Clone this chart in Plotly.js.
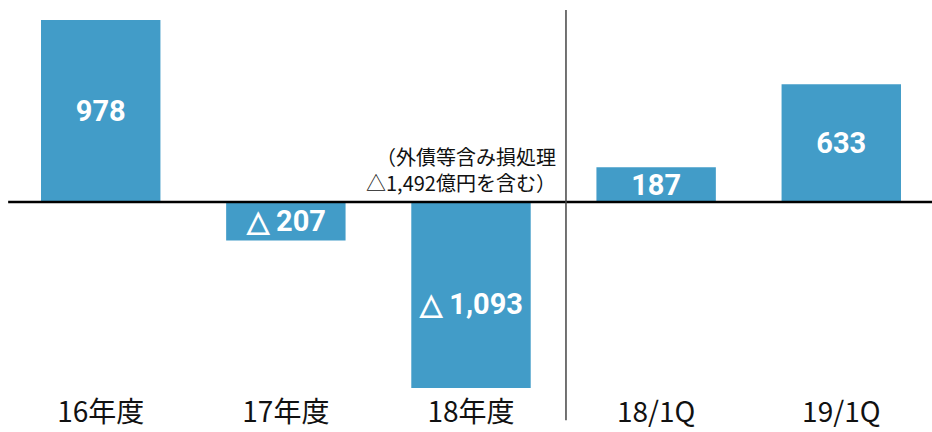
<!DOCTYPE html>
<html>
<head>
<meta charset="utf-8">
<script src="https://cdn.plot.ly/plotly-3.0.1.min.js"></script>
<style>
  html, body { margin: 0; padding: 0; background: #fff; }
  #chart { width: 932px; height: 432px; }
</style>
</head>
<body>
<div id="chart"></div>
<script>
const periods = ['16年度', '17年度', '18年度', '18/1Q', '19/1Q'];
const profits = [978, -207, -1093, 187, 633];
const noteLines = ['（外債等含み損処理', '△1,492億円を含む）'];

// negative values are written with a triangle, Japanese style
const labels = profits.map((v) =>
  v < 0 ? '△ ' + Math.abs(v).toLocaleString('en-US') : v.toLocaleString('en-US')
);

const trace = {
  x: periods,
  y: profits,
  type: 'bar',
  width: 0.645,
  marker: { color: '#429cc8', line: { width: 0 } },
  text: labels,
  textposition: 'inside',
  insidetextanchor: 'middle',
  constraintext: 'none',
  textfont: { family: 'Roboto, sans-serif', size: 29, color: '#ffffff', weight: 'bold' },
  hoverinfo: 'none'
};

const layout = {
  width: 932,
  height: 432,
  margin: { t: 10, l: 10, r: 0, b: 44 },
  paper_bgcolor: '#ffffff',
  plot_bgcolor: '#ffffff',
  showlegend: false,
  xaxis: {
    type: 'category',
    range: [-0.49, 4.49],
    showgrid: false,
    showline: false,
    zeroline: false,
    ticks: '',
    ticklabelstandoff: 5,
    tickfont: { family: '"Noto Sans CJK JP", sans-serif', size: 28, color: '#111111' }
  },
  yaxis: {
    range: [-1000, 1032],
    showgrid: false,
    zeroline: false,
    showticklabels: false,
    ticks: '',
    fixedrange: true
  },
  shapes: [
    {
      type: 'line', xref: 'paper', yref: 'y',
      x0: -0.002, x1: 1, y0: 0, y1: 0,
      line: { color: '#000000', width: 2.5 },
      layer: 'above'
    },
    {
      type: 'line', xref: 'x', yref: 'paper',
      x0: 2.513, x1: 2.513, y0: 1, y1: -0.085,
      line: { color: '#444444', width: 1.5 },
      layer: 'above'
    }
  ],
  annotations: [
    {
      xref: 'x', yref: 'y',
      x: 2.47, y: 172,
      xanchor: 'right', yanchor: 'middle', align: 'right',
      showarrow: false,
      text: noteLines.join('<br>'),
      font: { family: '"Noto Sans CJK JP", sans-serif', size: 20, color: '#111111' }
    }
  ]
};

Plotly.newPlot('chart', [trace], layout, { displayModeBar: false, staticPlot: true });
</script>
</body>
</html>
